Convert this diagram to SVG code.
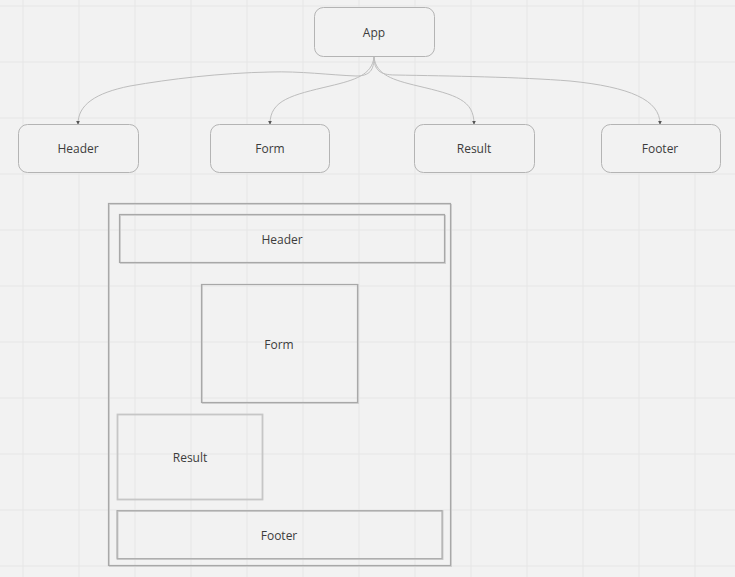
<svg xmlns="http://www.w3.org/2000/svg" width="735" height="577" viewBox="0 0 735 577">
<defs>
<style>
.bg{fill:#f2f2f2}
.grid{stroke:#e6e6e6;stroke-width:1;fill:none}
.node{fill:#f2f2f2;stroke:#b4b4b4;stroke-width:1}
.box{fill:none;stroke:#a8a8a8;stroke-width:1.2}
.boxs{fill:none;stroke:#d2d2d2;stroke-width:1}
.lbl{font-family:"Open Sans","Liberation Sans",sans-serif;font-size:12px;fill:#3c3c3c;text-anchor:middle;dominant-baseline:central}
.edge{fill:none;stroke:#bdbdbd;stroke-width:1;marker-end:url(#ah)}
</style>
<marker id="ah" viewBox="0 0 6 6" refX="5" refY="3" markerWidth="4" markerHeight="4" orient="auto" markerUnits="userSpaceOnUse">
<path d="M0,0 L6,3 L0,6 z" fill="#555"/>
</marker>
</defs>
<rect class="bg" x="0" y="0" width="735" height="577"/>
<g id="grid" class="grid">
<path d="M23,0V577M79,0V577M135,0V577M191,0V577M247,0V577M303,0V577M359,0V577M415,0V577M471,0V577M527,0V577M583,0V577M639,0V577M695,0V577"/>
<path d="M0,6H735M0,62H735M0,118H735M0,174H735M0,230H735M0,286H735M0,342H735M0,398H735M0,454H735M0,510H735M0,566H735"/>
</g>
<g id="connectors">
<path class="edge" d="M374,57 C374,70 370,76 356,76 C330,75 300,71 270,72 C220,73 170,79 130,86 C95,93 78,105 78,124"/>
<path class="edge" d="M374,57 C372,75 355,80 330,86 C292,95 270,100 270,124"/>
<path class="edge" d="M374,57 C376,75 393,80 418,86 C456,95 474,100 474,124"/>
<path class="edge" d="M374,57 C374,70 380,75 395,75 C450,76 520,77 570,81 C630,87 660,100 660,124"/>
</g>
<g id="app"><rect class="node" x="314.5" y="7.5" width="120" height="49" rx="9"/><text class="lbl" x="374" y="32.5">App</text></g>
<g id="header"><rect class="node" x="18.5" y="124.5" width="120" height="48" rx="9"/><text class="lbl" x="78" y="148.5">Header</text></g>
<g id="form"><rect class="node" x="210.5" y="124.5" width="119" height="48" rx="9"/><text class="lbl" x="270" y="148.5">Form</text></g>
<g id="result"><rect class="node" x="414.5" y="124.5" width="120" height="48" rx="9"/><text class="lbl" x="474" y="148.5">Result</text></g>
<g id="footer"><rect class="node" x="601.5" y="124.5" width="119" height="48" rx="9"/><text class="lbl" x="660" y="148.5">Footer</text></g>
<g id="layout">
<rect class="boxs" x="109.5" y="204.5" width="342" height="362"/>
<rect class="box" x="108.5" y="203.5" width="342" height="362"/>
<g id="l-header"><rect class="boxs" x="120.5" y="215.5" width="325" height="48"/><rect class="box" x="119.5" y="214.5" width="325" height="48"/><text class="lbl" x="282" y="239.5">Header</text></g>
<g id="l-form"><rect class="boxs" x="202.5" y="284.5" width="156" height="119"/><rect class="box" x="201.5" y="284.5" width="156" height="118"/><text class="lbl" x="279" y="344.5">Form</text></g>
<g id="l-result"><rect fill="none" stroke="#c6c6c6" stroke-width="1.8" x="117.5" y="414.5" width="145" height="85"/><text class="lbl" x="190" y="457.5">Result</text></g>
<g id="l-footer"><rect fill="none" stroke="#c2c2c2" stroke-width="1.8" x="117.5" y="511" width="325" height="48"/><rect fill="none" stroke="#a8a8a8" stroke-width="0.8" x="117" y="510.5" width="325" height="48"/><text class="lbl" x="279" y="535.5">Footer</text></g>
</g>
</svg>
